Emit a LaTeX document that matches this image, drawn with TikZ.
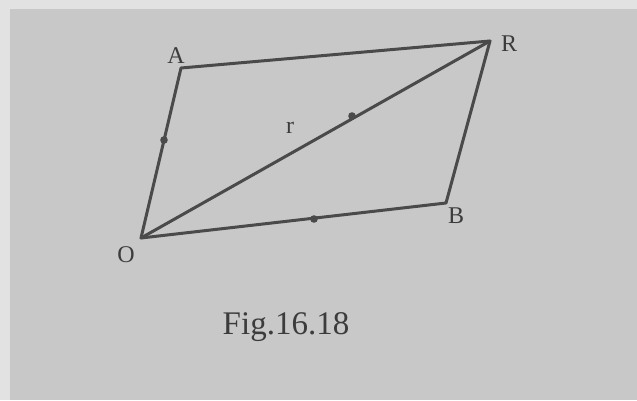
\documentclass[tikz,border=0pt]{standalone}
\usepackage{fontspec}
\setmainfont{Liberation Serif}
\begin{document}
\begin{tikzpicture}[x=1pt,y=-1pt,
  edge/.style={draw=linegray,line width=3pt,line cap=round,line join=round},
  lbl/.style={text=textgray,inner sep=0pt,font=\fontsize{24}{24}\selectfont}]
\definecolor{linegray}{RGB}{74,74,74}
\definecolor{textgray}{RGB}{60,60,60}
\definecolor{bggray}{RGB}{200,200,200}
\definecolor{edgegray}{RGB}{226,226,226}
\fill[edgegray] (0,0) rectangle (637,400);
\fill[bggray] (10,9) rectangle (637,400);
\useasboundingbox (0,0) rectangle (637,400);
\coordinate (O) at (141,238);
\coordinate (A) at (181,68);
\coordinate (R) at (490,41);
\coordinate (B) at (446,203);
\draw[edge] (O) -- (A) -- (R) -- (B) -- cycle;
\draw[edge] (O) -- (R);
\fill[linegray] (164,140) circle (3.8pt);
\fill[linegray] (352,116) circle (3.8pt);
\fill[linegray] (314,219) circle (3.8pt);
\node[lbl] (lA) at (176,56) {A};
\node[lbl] (lR) at (509,44) {R};
\node[lbl] (lO) at (126,255) {O};
\node[lbl] (lB) at (456,216) {B};
\node[lbl] (lr) at (290,128) {r};
\node[text=textgray,inner sep=0pt,font=\fontsize{33}{33}\selectfont] (cap) at (286,327) {Fig.16.18};
\end{tikzpicture}
\end{document}
